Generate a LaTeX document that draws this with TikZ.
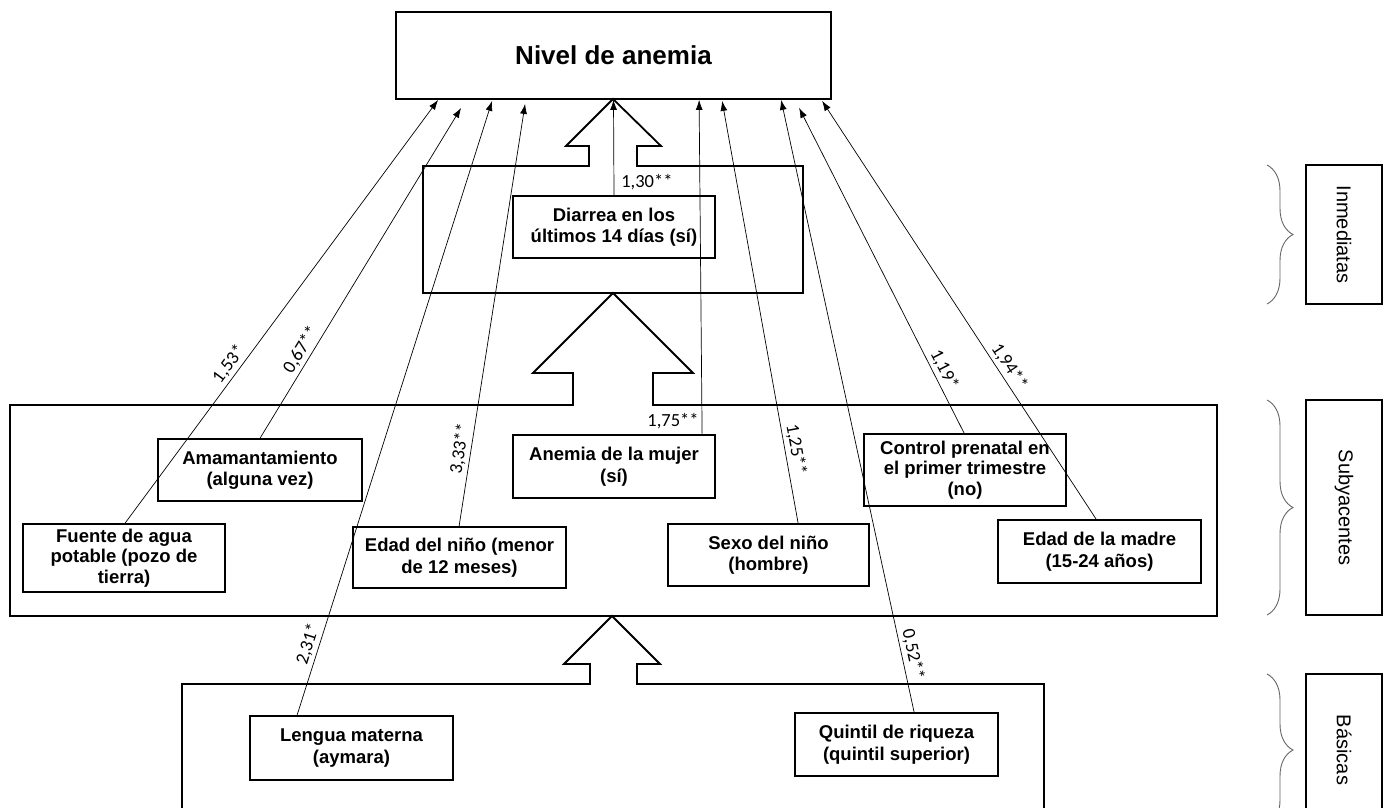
\documentclass[tikz,border=0pt]{standalone}
\usepackage{fontspec}
\setmainfont{Liberation Sans}
\newfontfamily\coeffont{Carlito}
\usetikzlibrary{arrows.meta,decorations.pathreplacing}
\tikzset{>={Latex[length=10pt,width=7pt]}}
\tikzset{
  caja/.style={draw, line width=1.8pt, align=center, inner sep=2pt,
    font=\fontsize{18.5}{21.5}\selectfont\bfseries},
  marco/.style={line width=1.8pt, line join=miter},
  rel/.style={->, line width=0.7pt},
  coef/.style={font=\fontsize{18.5}{20}\selectfont\coeffont, inner sep=3pt},
  llave/.style={decorate, decoration={brace, amplitude=26pt}, line width=0.9pt, gray!80!black},
  nivelcaja/.style={draw, line width=1.8pt, rotate=-90, minimum height=76pt,
    font=\fontsize{20}{22}\selectfont},
}

\begin{document}
\begin{tikzpicture}[x=1pt, y=-1pt]
  \useasboundingbox (0,0) rectangle (1392,807);

  % resultado
  \node[caja, minimum width=435pt, minimum height=87pt,
    font=\fontsize{26}{30}\selectfont\bfseries] (nivel) at (613.5,55.5) {Nivel de anemia};

  % marcos con sus flechas grandes
  \draw[marco] (423,166) -- (589,166) -- (589,146) -- (566,146) -- (613,99) -- (661,146)
    -- (637,146) -- (637,166) -- (803,166) -- (803,293) -- (423,293) -- cycle;
  \draw[marco] (10,405) -- (573,405) -- (573,373) -- (533,373) -- (613,293) -- (693,373)
    -- (653,373) -- (653,405) -- (1217,405) -- (1217,616) -- (10,616) -- cycle;
  \draw[marco] (182,815) -- (182,684) -- (590,684) -- (590,664) -- (564,664) -- (612,616)
    -- (660,664) -- (637,664) -- (637,684) -- (1044,684) -- (1044,815);

  % causas inmediatas
  \node[caja, minimum width=202pt, minimum height=62pt] (diarrea) at (614,227)
    {Diarrea en los\\últimos 14 días (sí)};

  % causas subyacentes
  \node[caja, minimum width=204pt, minimum height=62pt] (amamant) at (260,470)
    {Amamantamiento\\(alguna vez)};
  \node[caja, minimum width=202pt, minimum height=68pt, font=\fontsize{18.5}{20.5}\selectfont\bfseries]
    (fuente) at (124,558) {Fuente de agua\\potable (pozo de\\tierra)};
  \node[caja, minimum width=213pt, minimum height=61pt] (edadnino) at (459.5,557.5)
    {Edad del niño (menor\\de 12 meses)};
  \node[caja, minimum width=202pt, minimum height=63pt] (anemia) at (614,466.5)
    {Anemia de la mujer\\(sí)};
  \node[caja, minimum width=201pt, minimum height=62pt] (sexo) at (768.5,555)
    {Sexo del niño\\(hombre)};
  \node[caja, minimum width=202pt, minimum height=72pt, font=\fontsize{18.5}{20.5}\selectfont\bfseries]
    (control) at (965,470) {Control prenatal en\\el primer trimestre\\(no)};
  \node[caja, minimum width=203pt, minimum height=63pt] (madre) at (1099.5,551.5)
    {Edad de la madre\\(15-24 años)};

  % causas basicas
  \node[caja, minimum width=203pt, minimum height=64pt] (lengua) at (351.5,748)
    {Lengua materna\\(aymara)};
  \node[caja, minimum width=203pt, minimum height=63pt] (quintil) at (896.5,744.5)
    {Quintil de riqueza\\(quintil superior)};

  % relaciones con sus coeficientes
  \draw[rel] ([xshift=103pt]fuente.north west) --
    node[coef, pos=.36, sloped, above] {1,53*} ([xshift=43pt]nivel.south west);
  \draw[rel] ([xshift=103pt]amamant.north west) --
    node[coef, pos=.25, sloped, above] {0,67**} ([xshift=66pt,yshift=-8pt]nivel.south west);
  \draw[rel] ([xshift=48pt]lengua.north west) --
    node[coef, pos=.11, sloped, above] {2,31*} ([xshift=97pt,yshift=-1pt]nivel.south west);
  \draw[rel] ([xshift=107pt]edadnino.north west) --
    node[coef, pos=.18, sloped, above] {3,33**} ([xshift=130pt,yshift=-4pt]nivel.south west);
  \draw[rel] (diarrea.north) --
    node[coef, pos=.14, right, xshift=4pt] {1,30**} (nivel.south);
  \draw[rel] ([xshift=190pt]anemia.north west) --
    node[coef, pos=.04, left] {1,75**} ([xshift=304pt]nivel.south west);
  \draw[rel] ([xshift=131pt]sexo.north west) --
    node[coef, pos=.17, sloped, above] {1,25**} ([xshift=327pt,yshift=-1pt]nivel.south west);
  \draw[rel] ([xshift=101pt]control.north west) --
    node[coef, pos=.18, sloped, above] {1,19*} ([xshift=404pt,yshift=-8pt]nivel.south west);
  \draw[rel] ([xshift=99pt]madre.north west) --
    node[coef, pos=.35, sloped, above] {1,94**} ([xshift=427pt,yshift=-1pt]nivel.south west);
  \draw[rel] ([xshift=120pt]quintil.north west) --
    node[coef, pos=.09, sloped, above] {0,52**} ([xshift=386pt]nivel.south west);

  % niveles de causas
  \draw[llave] (1267,165) -- (1267,304);
  \node[nivelcaja, minimum width=139pt] (inmediatas) at (1344,234.5) {Inmediatas};
  \draw[llave] (1267,400) -- (1267,615);
  \node[nivelcaja, minimum width=215pt] (subyacentes) at (1344,507.5) {Subyacentes};
  \draw[llave] (1267,674) -- (1267,826);
  \node[nivelcaja, minimum width=152pt] (basicas) at (1344,750) {Básicas};
\end{tikzpicture}
\end{document}
